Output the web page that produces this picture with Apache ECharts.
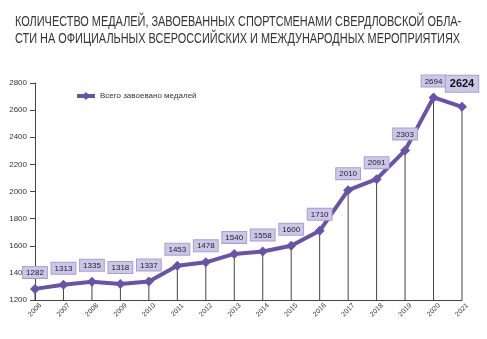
<!DOCTYPE html>
<html>
<head>
<meta charset="utf-8">
<script src="https://cdn.jsdelivr.net/npm/echarts@6/dist/echarts.min.js"></script>
<style>
    html, body { margin: 0; padding: 0; background: #fff; }
    #chart { width: 487px; height: 339px; }
</style>
</head>
<body>
<div id="chart"></div>
<script>
// годы и количество медалей
const years = ['2006', '2007', '2008', '2009', '2010', '2011', '2012', '2013',
    '2014', '2015', '2016', '2017', '2018', '2019', '2020', '2021']
const medals = [1282, 1313, 1335, 1318, 1337, 1453, 1478, 1540,
    1558, 1600, 1710, 2010, 2091, 2303, 2694, 2624]
const seriesName = 'Всего завоевано медалей'
const titleText = 'КОЛИЧЕСТВО МЕДАЛЕЙ, ЗАВОЕВАННЫХ СПОРТСМЕНАМИ СВЕРДЛОВСКОЙ ОБЛА-\nСТИ НА ОФИЦИАЛЬНЫХ ВСЕРОССИЙСКИХ И МЕЖДУНАРОДНЫХ МЕРОПРИЯТИЯХ'

const font = '"Liberation Sans", Arial, sans-serif'
const purple = '#6a52a8'

const chart = echarts.init(document.getElementById('chart'), null, { renderer: 'canvas' })

const lastIdx = medals.length - 1
const lineData = medals.map((v, i) => {
    if (i !== lastIdx) return v
    // последний год выделен жирным
    return {
        value: v,
        label: {
            fontSize: 11,
            fontWeight: 'bold',
            padding: [3, 4, 2, 4],
            distance: 10,
            color: '#111'
        }
    }
})

chart.setOption({
    backgroundColor: '#fff',
    animation: false,
    textStyle: { fontFamily: font },
    // заголовок узким шрифтом — сжимаем по горизонтали
    graphic: [
        {
            type: 'text',
            x: 15,
            y: 14,
            scaleX: 0.78,
            style: {
                text: titleText,
                fontFamily: font,
                fontSize: 14,
                lineHeight: 17,
                fill: '#333'
            }
        }
    ],
    legend: {
        data: [seriesName],
        left: 70,
        top: 87,
        itemWidth: 18,
        itemHeight: 10,
        itemGap: 8,
        lineStyle: { width: 4 },
        textStyle: { fontFamily: font, fontSize: 8, color: '#333' }
    },
    grid: {
        left: 35,
        right: 25,
        top: 83,
        bottom: 39
    },
    xAxis: {
        type: 'category',
        boundaryGap: false,
        data: years,
        axisLine: { lineStyle: { color: '#444', width: 1 } },
        axisTick: { show: false },
        axisLabel: {
            rotate: 45,
            align: 'center',
            verticalAlign: 'middle',
            margin: 10,
            fontSize: 7,
            color: '#333',
            fontFamily: font,
            interval: 0
        }
    },
    yAxis: {
        type: 'value',
        min: 1200,
        max: 2800,
        interval: 200,
        axisLine: { show: true, lineStyle: { color: '#444', width: 1 } },
        axisTick: { show: true, length: 5, lineStyle: { color: '#444' } },
        splitLine: { show: false },
        axisLabel: {
            fontSize: 8,
            color: '#333',
            margin: 8,
            fontFamily: font,
            formatter: v => String(v)
        }
    },
    series: [
        {
            // вертикальные линии от точек к оси
            type: 'bar',
            data: medals,
            barWidth: 1,
            silent: true,
            itemStyle: { color: '#444' },
            z: 1
        },
        {
            name: seriesName,
            type: 'line',
            data: lineData,
            symbol: 'diamond',
            symbolSize: 10,
            lineStyle: { color: purple, width: 4 },
            itemStyle: { color: purple },
            z: 3,
            label: {
                show: true,
                position: 'top',
                distance: 6,
                fontSize: 8,
                color: '#222',
                fontFamily: font,
                backgroundColor: '#ccc6e9',
                borderColor: '#a89ed6',
                borderWidth: 1,
                padding: [2, 3, 1, 3]
            }
        }
    ]
})
</script>
</body>
</html>
